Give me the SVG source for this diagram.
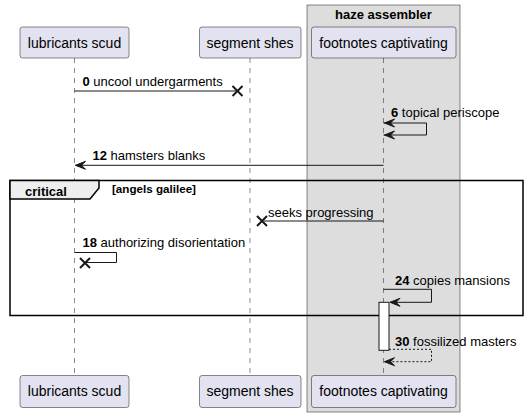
<svg xmlns="http://www.w3.org/2000/svg" width="529" height="416" viewBox="0 0 529 416">
<style>
.part{fill:#E2E2F0;stroke:#181818;stroke-width:0.5}
.ptxt{font-family:"Liberation Sans",Arial,sans-serif;font-size:14px;fill:#000;text-anchor:middle}
.mtxt{font-family:"Liberation Sans",Arial,sans-serif;font-size:13px;fill:#000}
.small{font-size:11.5px}
.b{font-weight:bold}
.life{stroke:#181818;stroke-width:0.5;stroke-dasharray:5,5;fill:none}
.msg{stroke:#181818;stroke-width:1;fill:none}
.dash{stroke-dasharray:2,2}
.head{fill:#181818;stroke:#181818;stroke-width:1}
.xm{stroke:#181818;stroke-width:2;fill:none}
</style>
<defs>
<polygon id="ah" points="0,0 10,-4 6,0 10,4" class="head"/>
</defs>
<g id="box-haze">
<rect x="307" y="5" width="153" height="407" fill="#DDDDDD" stroke="#181818" stroke-width="0.5"/>
<text x="383.5" y="18.5" class="mtxt b" text-anchor="middle">haze assembler</text>
</g>
<g id="lifelines">
<line x1="74.5" y1="58" x2="74.5" y2="375" class="life"/>
<line x1="250" y1="58" x2="250" y2="375" class="life"/>
<line x1="383.5" y1="58" x2="383.5" y2="375" class="life"/>
</g>
<g id="p-lubricants">
<rect x="20" y="27" width="109" height="31" rx="2.5" class="part"/>
<text x="74.5" y="47.5" class="ptxt">lubricants scud</text>
<rect x="20" y="375.5" width="109" height="32" rx="2.5" class="part"/>
<text x="74.5" y="396" class="ptxt">lubricants scud</text>
</g>
<g id="p-segment">
<rect x="199.5" y="27" width="101.5" height="31" rx="2.5" class="part"/>
<text x="250" y="47.5" class="ptxt">segment shes</text>
<rect x="199.5" y="375.5" width="101.5" height="32" rx="2.5" class="part"/>
<text x="250" y="396" class="ptxt">segment shes</text>
</g>
<g id="p-footnotes">
<rect x="311.5" y="27" width="144.5" height="31" rx="2.5" class="part"/>
<text x="383.5" y="47.5" class="ptxt">footnotes captivating</text>
<rect x="311.5" y="375.5" width="144.5" height="32" rx="2.5" class="part"/>
<text x="383.5" y="396" class="ptxt">footnotes captivating</text>
</g>
<g id="frame-critical">
<rect x="10" y="180.5" width="513" height="135" fill="none" stroke="#000" stroke-width="1.5"/>
<path d="M10,180.5 L99,180.5 L99,188 L90,199 L10,199 Z" fill="#EEEEEE" stroke="#000" stroke-width="1.5"/>
<text x="25" y="195.5" class="mtxt b">critical</text>
<text x="112" y="193" class="mtxt small b" textLength="84" lengthAdjust="spacingAndGlyphs">[angels galilee]</text>
</g>
<g id="activation">
<rect x="379" y="302.3" width="10" height="48" fill="#FFFFFF" stroke="#181818" stroke-width="1"/>
</g>
<g id="connectors">
<line x1="74.5" y1="91" x2="236" y2="91" class="msg"/>
<path d="M232.5,86 L242.5,96 M242.5,86 L232.5,96" class="xm"/>
<text x="82.5" y="86" class="mtxt"><tspan class="b">0</tspan> uncool undergarments</text>

<path d="M383.5,123 L426.5,123 L426.5,135 L383.5,135" class="msg"/>
<use href="#ah" x="384.5" y="123"/>
<use href="#ah" x="384.5" y="135"/>
<text x="391" y="117" class="mtxt"><tspan class="b">6</tspan> topical periscope</text>

<line x1="383.5" y1="165.3" x2="75.5" y2="165.3" class="msg"/>
<use href="#ah" x="75.5" y="165.3"/>
<text x="92.5" y="159.5" class="mtxt"><tspan class="b">12</tspan> hamsters blanks</text>

<line x1="383.5" y1="221" x2="264" y2="221" class="msg"/>
<path d="M257,216 L267,226 M267,216 L257,226" class="xm"/>
<text x="268" y="216.5" class="mtxt">seeks progressing</text>

<path d="M74.5,252.5 L116.5,252.5 L116.5,262.5 L84,262.5" class="msg"/>
<path d="M80,258 L90,268 M90,258 L80,268" class="xm"/>
<text x="82.5" y="247" class="mtxt"><tspan class="b">18</tspan> authorizing disorientation</text>

<path d="M383.5,289.3 L431.5,289.3 L431.5,302.3 L390,302.3" class="msg"/>
<use href="#ah" x="390" y="302.3"/>
<text x="395" y="284.5" class="mtxt"><tspan class="b">24</tspan> copies mansions</text>

<path d="M389,349.3 L431.5,349.3 L431.5,361.7 L384.5,361.7" class="msg dash"/>
<use href="#ah" x="384.5" y="361.7"/>
<text x="395" y="345.5" class="mtxt"><tspan class="b">30</tspan> fossilized masters</text>
</g>
</svg>
